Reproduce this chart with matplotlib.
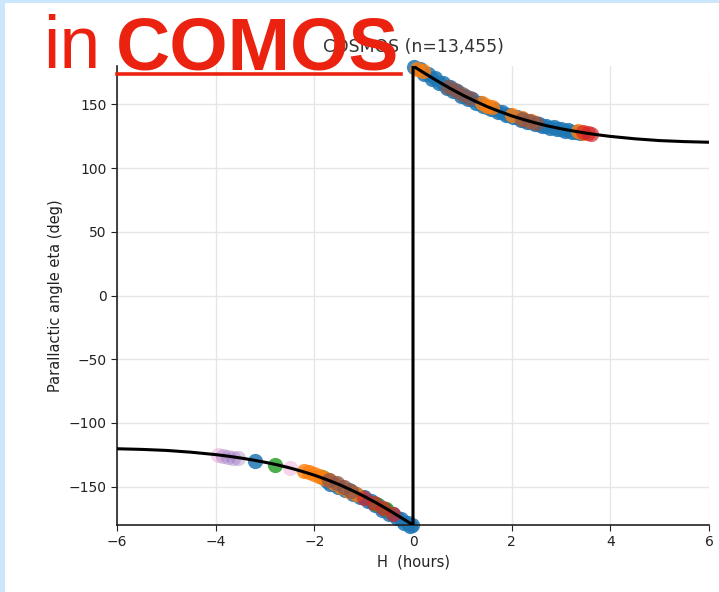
import matplotlib
matplotlib.use("Agg")
import matplotlib.pyplot as plt
from matplotlib.lines import Line2D
from matplotlib.patches import Rectangle

# ---- data ----
# model curve of parallactic angle vs hour angle
curve_H = [-6, -5.5, -5, -4.5, -4, -3.75, -3.5, -3.25, -3, -2.75, -2.5, -2.25, -2, -1.75,
           -1.5, -1.25, -1, -0.75, -0.5, -0.25, -0.1, 0, 0,
           0.1, 0.25, 0.5, 0.75, 1, 1.25, 1.5, 1.75, 2, 2.25, 2.5, 2.75, 3, 3.25, 3.5,
           3.75, 4, 4.5, 5, 5.5, 6]
curve_eta = [-120.2, -120.7, -121.5, -122.9, -124.8, -126.0, -127.4, -129.0, -130.8, -132.8,
             -135.2, -137.9, -140.9, -144.4, -148.2, -152.6, -157.3, -162.5, -168.1, -174.0,
             -177.6, -180, 180,
             177.6, 174.0, 168.1, 162.5, 157.3, 152.6, 148.2, 144.4, 140.9, 137.9, 135.2,
             132.8, 130.8, 129.0, 127.4, 126.0, 124.8, 122.9, 121.5, 120.7, 120.2]

# observed exposures, grouped by colour
blue_H = [0.02, 0.15, 0.3, 0.45, 0.6, 0.75, 0.9, 1.05, 1.2, 1.35, 1.5, 1.65, 1.8, 1.95,
          2.1, 2.25, 2.4, 2.55, 2.7, 2.85, 3.0, 3.15, 3.3,
          0.22, 0.38, 0.52, 0.68, 0.82, 0.98, 1.12, 1.28, 1.42, 1.58, 1.72, 1.88, 2.02,
          2.18, 2.32, 2.48, 2.62, 2.78, 2.92, 3.08, 3.22, 3.38,
          -3.2, -1.75, -1.6, -1.45, -1.3, -1.15, -1.0, -0.85, -0.7, -0.55, -0.4, -0.25,
          -0.1, -0.02,
          -1.68, -1.52, -1.38, -1.22, -1.08, -0.92, -0.78, -0.62, -0.48, -0.32, -0.18, -0.06]
blue_eta = [179.5, 177.4, 173.8, 170.3, 166.8, 163.5, 160.4, 156.4, 154.5, 150.8, 148.2,
            145.9, 143.6, 141.6, 139.7, 137.9, 136.2, 134.7, 133.2, 131.9, 130.8, 129.7, 128.6,
            173.7, 170.0, 166.7, 163.0, 160.0, 156.7, 154.0, 151.0, 148.6, 146.0, 143.8,
            141.6, 139.7, 137.7, 136.1, 134.4, 133.0, 131.6, 130.4, 129.2, 128.2, 127.1,
            -130.0, -145.4, -147.9, -150.1, -152.6, -155.4, -158.3, -161.4, -164.6, -168.0,
            -171.5, -175.0, -178.6, -180.0,
            -147.9, -150.4, -152.8, -155.6, -158.2, -161.5, -164.4, -167.9, -171.1, -174.9,
            -178.2, -180.5]

orange_H = [0.08, 0.2, 1.4, 1.5, 1.6, 2.0, 2.2, 2.4, 3.35, 3.45,
            -2.2, -2.1, -2.0, -1.9, -1.8, -1.7, -1.6, -1.45, -1.3, -1.15]
orange_eta = [178.0, 175.9, 150.9, 149.0, 147.5, 141.8, 138.9, 136.9, 128.7, 127.7,
              -137.4, -138.7, -140.0, -141.6, -143.2, -145.0, -147.0, -150.2, -153.4, -156.0]

brown_H = [0.7, 0.85, 1.0, 1.15, 2.2, 2.35, 2.5, -1.7, -1.55, -1.4, -1.25]
brown_eta = [163.8, 160.8, 157.8, 155.0, 138.6, 136.6, 135.1, -144.6, -147.4, -150.4, -153.4]

red_H = [3.45, 3.55, 3.6, -1.0, -0.8, -0.6, -0.4]
red_eta = [128.0, 127.4, 127.0, -159.0, -162.8, -167.0, -171.6]

green_H = [-2.8, -1.85, -0.75, -0.55]
green_eta = [-132.6, -142.0, -163.2, -167.2]

purple_H = [-3.85, -3.75, -3.65, -3.55]
purple_eta = [-126.0, -126.6, -127.1, -127.6]

pink_H = [-3.95, -2.5]
pink_eta = [-125.2, -135.2]

title_text = "COSMOS (n=13,455)"
x_ticks = [-6, -4, -2, 0, 2, 4, 6]
y_ticks = [-150, -100, -50, 0, 50, 100, 150]

# ---- figure ----
W, H = 719, 592
fig = plt.figure(figsize=(W / 100, H / 100), dpi=100)
fig.patch.set_facecolor("#cce6fb")
fig.add_artist(Rectangle((5 / W, 0), 1 - 5 / W, 1 - 3 / H, transform=fig.transFigure,
                         facecolor="white", edgecolor="none", zorder=-10))

ax = fig.add_axes([117 / W, 1 - 525 / H, 592 / W, 459 / H])
ax.set_facecolor("white")
ax.grid(True, color="#e6e6e6", linewidth=1.0, zorder=0)
ax.set_axisbelow(True)
for s in ("top", "right"):
    ax.spines[s].set_visible(False)
for s in ("left", "bottom"):
    ax.spines[s].set_color("#222222")
    ax.spines[s].set_linewidth(1.2)

ms = 120
ax.scatter(pink_H, pink_eta, s=ms, color="#e377c2", alpha=0.3, lw=0, zorder=2, clip_on=False)
ax.scatter(purple_H, purple_eta, s=ms, color="#9467bd", alpha=0.35, lw=0, zorder=2, clip_on=False)
ax.scatter(blue_H, blue_eta, s=ms, color="#1f77b4", alpha=0.85, lw=0, zorder=2, clip_on=False)
ax.scatter(green_H, green_eta, s=ms, color="#2ca02c", alpha=0.85, lw=0, zorder=2, clip_on=False)
ax.scatter(orange_H, orange_eta, s=ms, color="#ff7f0e", alpha=0.8, lw=0, zorder=2, clip_on=False)
ax.scatter(brown_H, brown_eta, s=ms, color="#8c564b", alpha=0.75, lw=0, zorder=2, clip_on=False)
ax.scatter(red_H, red_eta, s=ms, color="#d62728", alpha=0.7, lw=0, zorder=2, clip_on=False)

ax.plot(curve_H, curve_eta, color="black", lw=2.2, zorder=3)

ax.set_xlim(-6, 6)
ax.set_ylim(-180, 180)
ax.set_xticks(x_ticks)
ax.set_yticks(y_ticks)
ax.tick_params(labelsize=10, colors="#222222", length=4)
ax.set_xlabel("H  (hours)", fontsize=10.5, color="#222222")
ax.set_ylabel("Parallactic angle eta (deg)", fontsize=10.5, color="#222222")
ax.set_title(title_text, fontsize=12.4, color="#333333", pad=10)

red = "#ec2210"
fig.text(43 / W, 1 - 68 / H, "in", fontsize=53, color=red, family="Liberation Sans",
         va="baseline", ha="left")
fig.text(116 / W, 1 - 69 / H, "COMOS", fontsize=54, color=red, family="Liberation Sans",
         weight="bold", va="baseline", ha="left")
fig.add_artist(Line2D([117 / W, 401 / W], [1 - 74 / H, 1 - 74 / H], transform=fig.transFigure,
                      color=red, lw=2.6, zorder=5))

fig.savefig("out.png", dpi=100, facecolor=fig.get_facecolor())
